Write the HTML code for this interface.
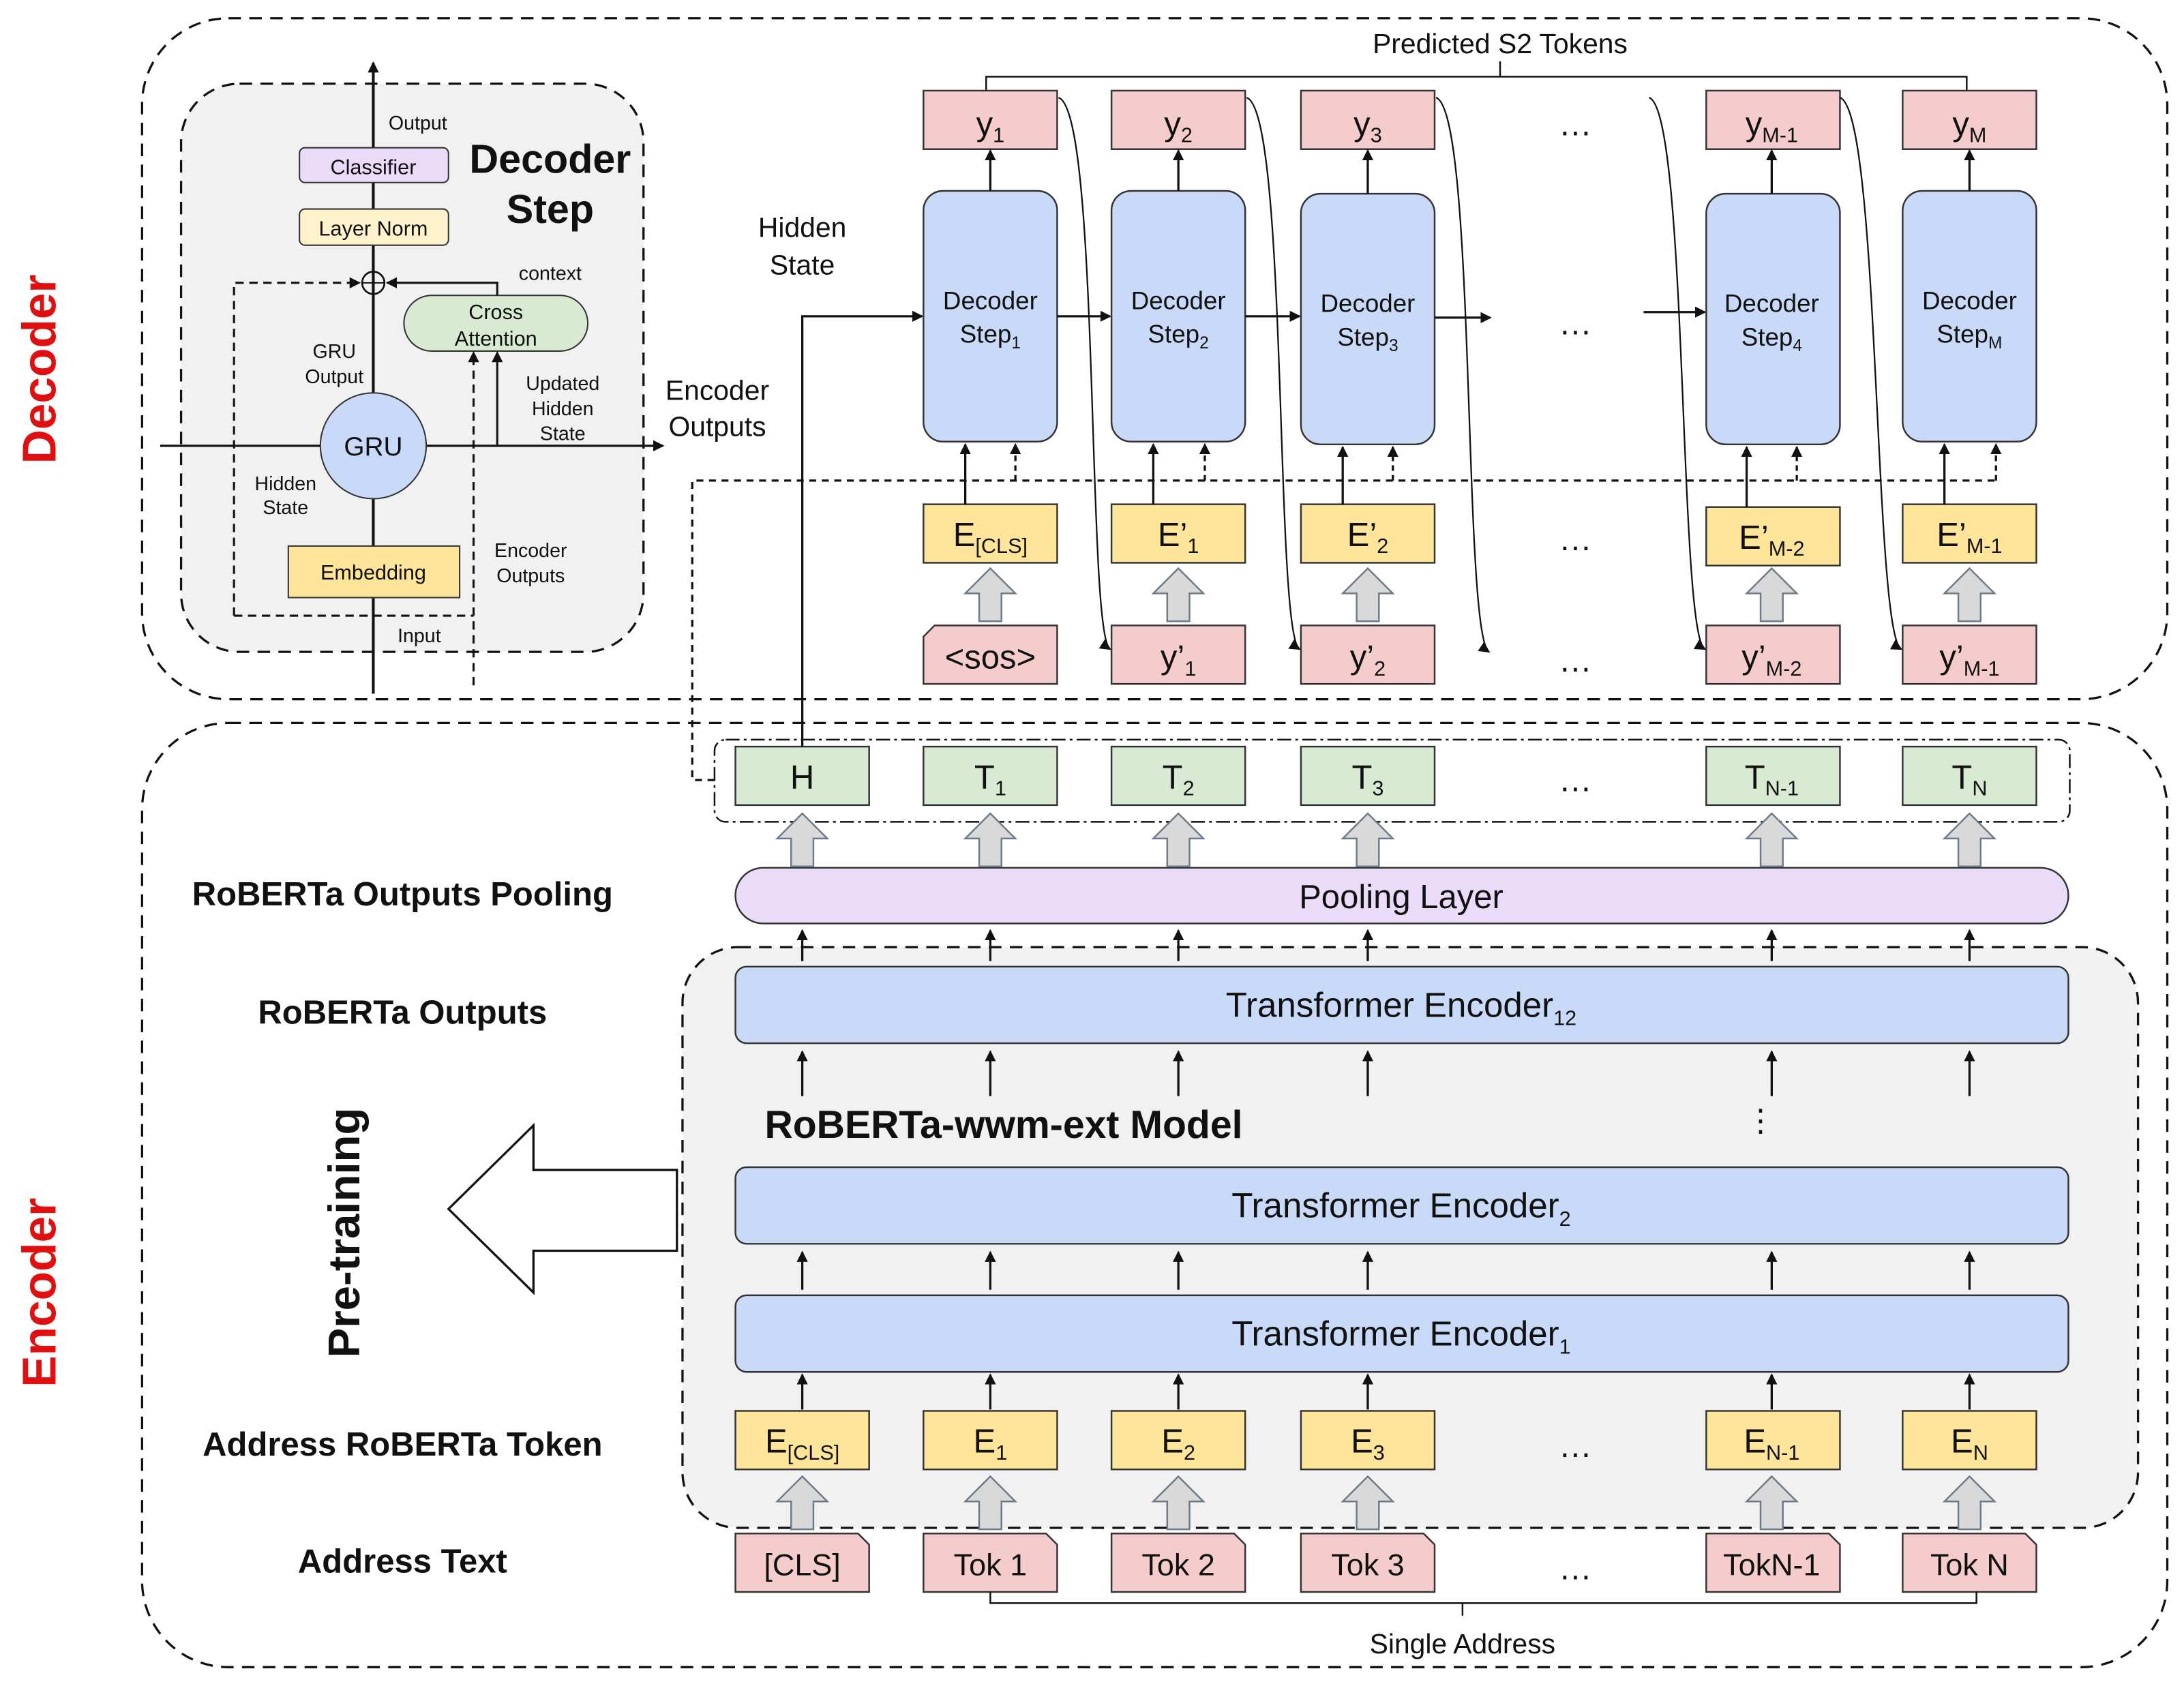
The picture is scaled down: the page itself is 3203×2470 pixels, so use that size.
<!DOCTYPE html>
<html><head><meta charset="utf-8"><style>
html,body{margin:0;padding:0;background:#fff;}
svg{display:block;}
text{font-family:"Liberation Sans",sans-serif;fill:#111;}
</style></head><body>
<svg width="3203" height="2470" viewBox="0 0 1568 1209" xmlns="http://www.w3.org/2000/svg">
<defs>
<marker id="a" markerWidth="8" markerHeight="8" refX="7" refY="4" orient="auto" markerUnits="userSpaceOnUse"><path d="M0,0 L8,4 L0,8 z" fill="#111"/></marker>
<g id="ga"><path d="M-8,38 L-8,18 L-18,18 L0,0 L18,18 L8,18 L8,38 z" fill="#d9d9d9" stroke="#6d7a8a" stroke-width="1.2"/></g>
</defs>
<rect width="1568" height="1209" fill="#fff"/>
<rect x="102" y="13" width="1454" height="489" rx="62" fill="none" stroke="#111" stroke-width="1.6" stroke-dasharray="9,6"/>
<rect x="102" y="519" width="1454" height="678" rx="62" fill="none" stroke="#111" stroke-width="1.6" stroke-dasharray="9,6"/>
<rect x="130" y="60" width="332" height="408" rx="42" fill="#f1f1f1" stroke="#111" stroke-width="1.6" stroke-dasharray="9,6"/>
<rect x="490" y="680" width="1045" height="417" rx="40" fill="#f1f1f1" stroke="#111" stroke-width="1.6" stroke-dasharray="9,6"/>

<text x="40" y="265" font-size="34" font-weight="bold" style="fill:#e01010" text-anchor="middle" transform="rotate(-90 40 265)">Decoder</text>
<text x="40" y="928" font-size="34" font-weight="bold" style="fill:#e01010" text-anchor="middle" transform="rotate(-90 40 928)">Encoder</text>

<line x1="268" y1="498" x2="268" y2="45" stroke="#111" stroke-width="2" marker-end="url(#a)"/>
<line x1="115" y1="320" x2="476" y2="320" stroke="#111" stroke-width="1.6" marker-end="url(#a)"/>
<rect x="215" y="106" width="107" height="25" rx="4" fill="#eadcf8" stroke="#333"/>
<text x="268" y="125" font-size="15" text-anchor="middle">Classifier</text>
<rect x="215" y="150" width="107" height="26" rx="4" fill="#fff2cc" stroke="#333"/>
<text x="268" y="169" font-size="15" text-anchor="middle">Layer Norm</text>
<rect x="207" y="392" width="123" height="37" fill="#ffe599" stroke="#333"/>
<text x="268" y="416" font-size="15" text-anchor="middle">Embedding</text>
<circle cx="268" cy="320" r="38" fill="#c9daf8" stroke="#333"/>
<text x="268" y="327" font-size="19" text-anchor="middle">GRU</text>
<rect x="290" y="212" width="132" height="40" rx="20" fill="#d9ead3" stroke="#333"/>
<text x="356" y="229" font-size="15" text-anchor="middle">Cross</text>
<text x="356" y="248" font-size="15" text-anchor="middle">Attention</text>
<circle cx="268" cy="203" r="8" fill="none" stroke="#111" stroke-width="1.3"/>
<line x1="260" y1="203" x2="276" y2="203" stroke="#111"/>
<path d="M168,442 L168,203 L258,203" fill="none" stroke="#111" stroke-width="1.5" stroke-dasharray="6,4" marker-end="url(#a)"/>
<path d="M168,442 L340,442" fill="none" stroke="#111" stroke-width="1.5" stroke-dasharray="6,4"/>
<path d="M340,492 L340,253" fill="none" stroke="#111" stroke-width="1.5" stroke-dasharray="6,4" marker-end="url(#a)"/>
<path d="M357,320 L357,253" fill="none" stroke="#111" stroke-width="1.5" marker-end="url(#a)"/>
<path d="M357,212 L357,203 L278,203" fill="none" stroke="#111" stroke-width="1.5" marker-end="url(#a)"/>
<text x="300" y="93" font-size="14" text-anchor="middle">Output</text>
<text x="395" y="124" font-size="29" font-weight="bold" text-anchor="middle">Decoder</text>
<text x="395" y="160" font-size="29" font-weight="bold" text-anchor="middle">Step</text>
<text x="395" y="201" font-size="14" text-anchor="middle">context</text>
<text x="240" y="257" font-size="14" text-anchor="middle">GRU</text>
<text x="240" y="275" font-size="14" text-anchor="middle">Output</text>
<text x="404" y="280" font-size="14" text-anchor="middle">Updated</text>
<text x="404" y="298" font-size="14" text-anchor="middle">Hidden</text>
<text x="404" y="316" font-size="14" text-anchor="middle">State</text>
<text x="205" y="352" font-size="14" text-anchor="middle">Hidden</text>
<text x="205" y="369" font-size="14" text-anchor="middle">State</text>
<text x="381" y="400" font-size="14" text-anchor="middle">Encoder</text>
<text x="381" y="418" font-size="14" text-anchor="middle">Outputs</text>
<text x="301" y="461" font-size="14" text-anchor="middle">Input</text>
<text x="515" y="287" font-size="20" text-anchor="middle">Encoder</text>
<text x="515" y="313" font-size="20" text-anchor="middle">Outputs</text>
<text x="576" y="170" font-size="20" text-anchor="middle">Hidden</text>
<text x="576" y="197" font-size="20" text-anchor="middle">State</text>

<text x="1077" y="38" font-size="20" text-anchor="middle">Predicted S2 Tokens</text>
<path d="M708,65 L708,55 L1412,55 L1412,65 M1077,55 L1077,44" fill="none" stroke="#111" stroke-width="1.2"/>

<g font-size="24" text-anchor="middle">
<g stroke="#333" stroke-width="1.2" fill="#f4cccc">
<rect x="663" y="65" width="96" height="42"/><rect x="798" y="65" width="96" height="42"/><rect x="934" y="65" width="96" height="42"/><rect x="1225" y="65" width="96" height="42"/><rect x="1366" y="65" width="96" height="42"/>
</g>
<text x="711" y="97">y<tspan font-size="15" dy="5">1</tspan></text>
<text x="846" y="97">y<tspan font-size="15" dy="5">2</tspan></text>
<text x="982" y="97">y<tspan font-size="15" dy="5">3</tspan></text>
<text x="1131" y="97">…</text>
<text x="1272" y="97">y<tspan font-size="15" dy="5">M-1</tspan></text>
<text x="1414" y="97">y<tspan font-size="15" dy="5">M</tspan></text>
<g stroke="#333" stroke-width="1.2" fill="#c9daf8">
<rect x="663" y="137" width="96" height="180" rx="14"/><rect x="798" y="137" width="96" height="180" rx="14"/><rect x="934" y="139" width="96" height="180" rx="14"/><rect x="1225" y="139" width="96" height="180" rx="14"/><rect x="1366" y="137" width="96" height="180" rx="14"/>
</g>
<g font-size="18">
<text x="711" y="222">Decoder</text><text x="711" y="246">Step<tspan font-size="12" dy="4">1</tspan></text>
<text x="846" y="222">Decoder</text><text x="846" y="246">Step<tspan font-size="12" dy="4">2</tspan></text>
<text x="982" y="224">Decoder</text><text x="982" y="248">Step<tspan font-size="12" dy="4">3</tspan></text>
<text x="1272" y="224">Decoder</text><text x="1272" y="248">Step<tspan font-size="12" dy="4">4</tspan></text>
<text x="1414" y="222">Decoder</text><text x="1414" y="246">Step<tspan font-size="12" dy="4">M</tspan></text>
</g>
<text x="1131" y="240">…</text>
<g stroke="#333" stroke-width="1.2" fill="#ffe599">
<rect x="663" y="362" width="96" height="42"/><rect x="798" y="362" width="96" height="42"/><rect x="934" y="362" width="96" height="42"/><rect x="1225" y="364" width="96" height="42"/><rect x="1366" y="362" width="96" height="42"/>
</g>
<text x="711" y="392">E<tspan font-size="15" dy="5">[CLS]</tspan></text>
<text x="846" y="392">E’<tspan font-size="15" dy="5">1</tspan></text>
<text x="982" y="392">E’<tspan font-size="15" dy="5">2</tspan></text>
<text x="1131" y="395">…</text>
<text x="1272" y="394">E’<tspan font-size="15" dy="5">M-2</tspan></text>
<text x="1414" y="392">E’<tspan font-size="15" dy="5">M-1</tspan></text>
<g stroke="#333" stroke-width="1.2" fill="#f4cccc">
<path d="M671,449 L759,449 L759,491 L663,491 L663,457 z"/><rect x="798" y="449" width="96" height="42"/><rect x="934" y="449" width="96" height="42"/><rect x="1225" y="449" width="96" height="42"/><rect x="1366" y="449" width="96" height="42"/>
</g>
<text x="711" y="480">&lt;sos&gt;</text>
<text x="846" y="480">y’<tspan font-size="15" dy="5">1</tspan></text>
<text x="982" y="480">y’<tspan font-size="15" dy="5">2</tspan></text>
<text x="1131" y="482">…</text>
<text x="1272" y="480">y’<tspan font-size="15" dy="5">M-2</tspan></text>
<text x="1414" y="480">y’<tspan font-size="15" dy="5">M-1</tspan></text>

<rect x="513" y="531" width="973" height="59" rx="8" fill="none" stroke="#111" stroke-width="1.2" stroke-dasharray="10,3,2,3"/>
<g stroke="#333" stroke-width="1.2" fill="#d9ead3">
<rect x="528" y="536" width="96" height="42"/><rect x="663" y="536" width="96" height="42"/><rect x="798" y="536" width="96" height="42"/><rect x="934" y="536" width="96" height="42"/><rect x="1225" y="536" width="96" height="42"/><rect x="1366" y="536" width="96" height="42"/>
</g>
<text x="576" y="566">H</text>
<text x="711" y="566">T<tspan font-size="15" dy="5">1</tspan></text>
<text x="846" y="566">T<tspan font-size="15" dy="5">2</tspan></text>
<text x="982" y="566">T<tspan font-size="15" dy="5">3</tspan></text>
<text x="1131" y="568">…</text>
<text x="1272" y="566">T<tspan font-size="15" dy="5">N-1</tspan></text>
<text x="1414" y="566">T<tspan font-size="15" dy="5">N</tspan></text>

<rect x="528" y="623" width="957" height="40" rx="20" fill="#eadcf8" stroke="#333" stroke-width="1.2"/>
<text x="1006" y="652">Pooling Layer</text>
<g stroke="#333" stroke-width="1.2" fill="#c9daf8">
<rect x="528" y="694" width="957" height="55" rx="8"/><rect x="528" y="838" width="957" height="55" rx="8"/><rect x="528" y="930" width="957" height="55" rx="8"/>
</g>
<g font-size="25">
<text x="1006" y="730">Transformer Encoder<tspan font-size="15" dy="6">12</tspan></text>
<text x="1006" y="874">Transformer Encoder<tspan font-size="15" dy="6">2</tspan></text>
<text x="1006" y="966">Transformer Encoder<tspan font-size="15" dy="6">1</tspan></text>
</g>

<g stroke="#333" stroke-width="1.2" fill="#ffe599">
<rect x="528" y="1013" width="96" height="42"/><rect x="663" y="1013" width="96" height="42"/><rect x="798" y="1013" width="96" height="42"/><rect x="934" y="1013" width="96" height="42"/><rect x="1225" y="1013" width="96" height="42"/><rect x="1366" y="1013" width="96" height="42"/>
</g>
<text x="576" y="1043">E<tspan font-size="15" dy="5">[CLS]</tspan></text>
<text x="711" y="1043">E<tspan font-size="15" dy="5">1</tspan></text>
<text x="846" y="1043">E<tspan font-size="15" dy="5">2</tspan></text>
<text x="982" y="1043">E<tspan font-size="15" dy="5">3</tspan></text>
<text x="1131" y="1046">…</text>
<text x="1272" y="1043">E<tspan font-size="15" dy="5">N-1</tspan></text>
<text x="1414" y="1043">E<tspan font-size="15" dy="5">N</tspan></text>

<g stroke="#333" stroke-width="1.2" fill="#f4cccc">
<path d="M528,1101 L616,1101 L624,1109 L624,1143 L528,1143 z"/>
<path d="M663,1101 L751,1101 L759,1109 L759,1143 L663,1143 z"/>
<path d="M798,1101 L886,1101 L894,1109 L894,1143 L798,1143 z"/>
<path d="M934,1101 L1022,1101 L1030,1109 L1030,1143 L934,1143 z"/>
<path d="M1225,1101 L1313,1101 L1321,1109 L1321,1143 L1225,1143 z"/>
<path d="M1366,1101 L1454,1101 L1462,1109 L1462,1143 L1366,1143 z"/>
</g>
<g font-size="22">
<text x="576" y="1131">[CLS]</text><text x="711" y="1131">Tok 1</text><text x="846" y="1131">Tok 2</text><text x="982" y="1131">Tok 3</text><text x="1131" y="1134" font-size="24">…</text><text x="1272" y="1131">TokN-1</text><text x="1414" y="1131">Tok N</text>
</g>
</g>
<path d="M711,1143 L711,1151 L1419,1151 L1419,1143 M1050,1151 L1050,1160" fill="none" stroke="#111" stroke-width="1.2"/>
<text x="1050" y="1187" font-size="20" text-anchor="middle">Single Address</text>

<use href="#ga" x="711" y="408"/><use href="#ga" x="846" y="408"/><use href="#ga" x="982" y="408"/><use href="#ga" x="1272" y="408"/><use href="#ga" x="1414" y="408"/>
<use href="#ga" x="576" y="584"/><use href="#ga" x="711" y="584"/><use href="#ga" x="846" y="584"/><use href="#ga" x="982" y="584"/><use href="#ga" x="1272" y="584"/><use href="#ga" x="1414" y="584"/>
<use href="#ga" x="576" y="1060"/><use href="#ga" x="711" y="1060"/><use href="#ga" x="846" y="1060"/><use href="#ga" x="982" y="1060"/><use href="#ga" x="1272" y="1060"/><use href="#ga" x="1414" y="1060"/>

<g stroke="#111" stroke-width="1.6" marker-end="url(#a)">
<line x1="711" y1="137" x2="711" y2="108"/><line x1="846" y1="137" x2="846" y2="108"/><line x1="982" y1="139" x2="982" y2="108"/><line x1="1272" y1="139" x2="1272" y2="108"/><line x1="1414" y1="137" x2="1414" y2="108"/>
<line x1="759" y1="227" x2="797" y2="227"/><line x1="894" y1="227" x2="933" y2="227"/><line x1="1030" y1="228" x2="1070" y2="228"/><line x1="1180" y1="224" x2="1224" y2="224"/>
<line x1="693" y1="362" x2="693" y2="319"/><line x1="828" y1="362" x2="828" y2="319"/><line x1="964" y1="362" x2="964" y2="321"/><line x1="1254" y1="364" x2="1254" y2="321"/><line x1="1396" y1="362" x2="1396" y2="319"/>
<path d="M576,536 L576,227 L662,227" fill="none"/>
</g>
<g stroke="#111" stroke-width="1.6" stroke-dasharray="5,4" fill="none">
<path d="M513,560 L497,560 L497,345 L1434,345"/>
</g>
<g stroke="#111" stroke-width="1.6" stroke-dasharray="4,3" marker-end="url(#a)">
<line x1="729" y1="345" x2="729" y2="319"/><line x1="865" y1="345" x2="865" y2="319"/><line x1="1000" y1="345" x2="1000" y2="321"/><line x1="1290" y1="345" x2="1290" y2="321"/><line x1="1433" y1="345" x2="1433" y2="319"/>
</g>
<g stroke="#111" stroke-width="1.1" fill="none" marker-end="url(#a)">
<path d="M760,70 C790,80 780,455 797,466"/>
<path d="M895,70 C925,80 915,455 933,466"/>
<path d="M1031,70 C1060,80 1050,455 1069,468"/>
<path d="M1184,70 C1212,80 1205,455 1224,466"/>
<path d="M1321,70 C1350,80 1345,455 1365,466"/>
</g>
<g stroke="#111" stroke-width="1.6" marker-end="url(#a)">
<line x1="576" y1="690" x2="576" y2="668"/><line x1="711" y1="690" x2="711" y2="668"/><line x1="846" y1="690" x2="846" y2="668"/><line x1="982" y1="690" x2="982" y2="668"/><line x1="1272" y1="690" x2="1272" y2="668"/><line x1="1414" y1="690" x2="1414" y2="668"/>
<line x1="576" y1="787" x2="576" y2="755"/><line x1="711" y1="787" x2="711" y2="755"/><line x1="846" y1="787" x2="846" y2="755"/><line x1="982" y1="787" x2="982" y2="755"/><line x1="1272" y1="787" x2="1272" y2="755"/><line x1="1414" y1="787" x2="1414" y2="755"/>
<line x1="576" y1="926" x2="576" y2="899"/><line x1="711" y1="926" x2="711" y2="899"/><line x1="846" y1="926" x2="846" y2="899"/><line x1="982" y1="926" x2="982" y2="899"/><line x1="1272" y1="926" x2="1272" y2="899"/><line x1="1414" y1="926" x2="1414" y2="899"/>
<line x1="576" y1="1012" x2="576" y2="987"/><line x1="711" y1="1012" x2="711" y2="987"/><line x1="846" y1="1012" x2="846" y2="987"/><line x1="982" y1="1012" x2="982" y2="987"/><line x1="1272" y1="1012" x2="1272" y2="987"/><line x1="1414" y1="1012" x2="1414" y2="987"/>
</g>
<text x="1264" y="812" font-size="22" text-anchor="middle">⋮</text>
<text x="549" y="817" font-size="28" font-weight="bold">RoBERTa-wwm-ext Model</text>

<g font-size="24" font-weight="bold" text-anchor="middle">
<text x="289" y="650">RoBERTa Outputs Pooling</text>
<text x="289" y="735">RoBERTa Outputs</text>
<text x="289" y="1045">Address RoBERTa Token</text>
<text x="289" y="1129">Address Text</text>
</g>
<text x="258" y="885" font-size="32" font-weight="bold" text-anchor="middle" transform="rotate(-90 258 885)">Pre-training</text>
<path d="M486,840 L383,840 L383,808 L322,868 L383,928 L383,898 L486,898 z" fill="#fff" stroke="#111" stroke-width="1.6"/>
</svg>
</body></html>
